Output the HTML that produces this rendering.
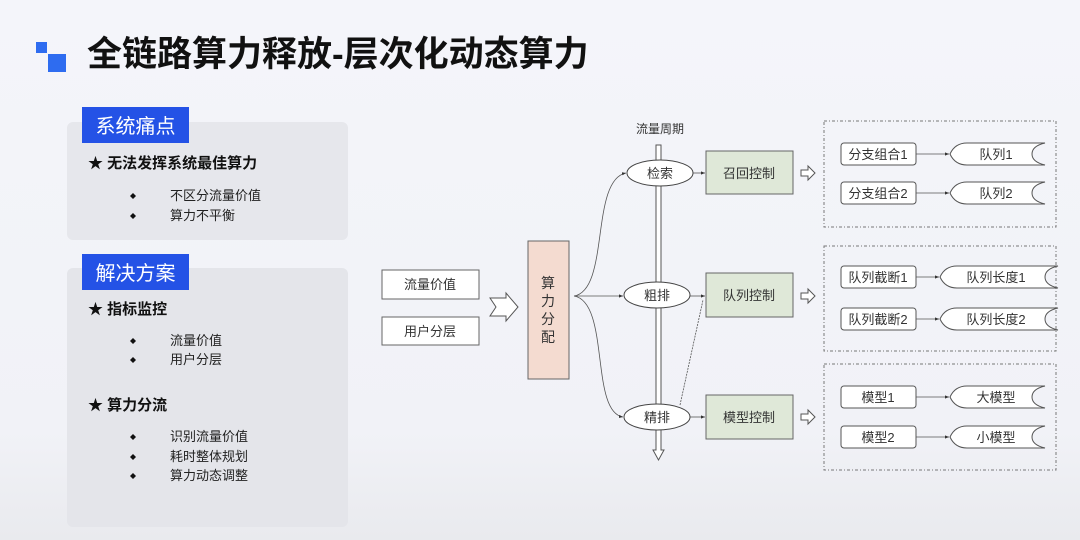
<!DOCTYPE html>
<html><head><meta charset="utf-8"><style>
body{margin:0;width:1080px;height:540px;overflow:hidden;background:linear-gradient(#f4f5fa 0%,#f1f2f7 80%,#e9eaee 100%);font-family:"Liberation Sans","Noto Sans CJK SC",sans-serif;}
svg{position:absolute;left:0;top:0}
</style></head><body>
<svg width="1080" height="540" xmlns="http://www.w3.org/2000/svg" font-family="Liberation Sans, Noto Sans CJK SC, sans-serif">
<defs>
<marker id="a" markerWidth="6" markerHeight="6" refX="5" refY="3" orient="auto"><path d="M0,1 L5,3 L0,5z" fill="#333"/></marker>
</defs>
<rect x="36" y="42" width="11" height="11" fill="#2e6cf0"/>
<rect x="48" y="54" width="18" height="18" fill="#2e6cf0"/>
<text x="87" y="66" font-size="35" font-weight="bold" fill="#111">全链路算力释放-层次化动态算力</text>
<rect x="67" y="122" width="281" height="118" rx="6" fill="#e6e7ec"/>
<rect x="82" y="107" width="107" height="36" fill="#2452e6"/>
<text x="135.5" y="133" font-size="20" fill="#fff" text-anchor="middle">系统痛点</text>
<text x="88" y="168" font-size="15" font-weight="bold" fill="#111">★ 无法发挥系统最佳算力</text>
<g font-size="13" fill="#222"><text x="170" y="200">不区分流量价值</text><text x="170" y="220">算力不平衡</text></g>
<g fill="#111"><path d="M133,193 l3,3 l-3,3 l-3,-3z"/><path d="M133,213 l3,3 l-3,3 l-3,-3z"/></g>
<rect x="67" y="268" width="281" height="259" rx="6" fill="#e4e5ea"/>
<rect x="82" y="254" width="107" height="36" fill="#2452e6"/>
<text x="135.5" y="280" font-size="20" fill="#fff" text-anchor="middle">解决方案</text>
<text x="88" y="314" font-size="15" font-weight="bold" fill="#111">★ 指标监控</text>
<text x="88" y="410" font-size="15" font-weight="bold" fill="#111">★ 算力分流</text>
<g font-size="13" fill="#222"><text x="170" y="345">流量价值</text><text x="170" y="364">用户分层</text>
<text x="170" y="441">识别流量价值</text><text x="170" y="461">耗时整体规划</text><text x="170" y="480">算力动态调整</text></g>
<g fill="#111"><path d="M133,338 l3,3 l-3,3 l-3,-3z"/><path d="M133,357 l3,3 l-3,3 l-3,-3z"/><path d="M133,434 l3,3 l-3,3 l-3,-3z"/><path d="M133,454 l3,3 l-3,3 l-3,-3z"/><path d="M133,473 l3,3 l-3,3 l-3,-3z"/></g>
<g fill="#fff" stroke="#666" stroke-width="1">
<rect x="382" y="270" width="97" height="29"/><rect x="382" y="317" width="97" height="28"/>
</g>
<g font-size="13" fill="#333" text-anchor="middle"><text x="430" y="289">流量价值</text><text x="430" y="336">用户分层</text></g>
<path d="M490,298 h16 v-5 l12,14 l-12,14 v-5 h-16 l6,-9z" fill="#fff" stroke="#555"/>
<rect x="528" y="241" width="41" height="138" fill="#f4dbd0" stroke="#666"/>
<g font-size="14" fill="#333" text-anchor="middle"><text x="548" y="288">算</text><text x="548" y="306">力</text><text x="548" y="324">分</text><text x="548" y="342">配</text></g>
<text x="660" y="133" font-size="12" fill="#333" text-anchor="middle">流量周期</text>
<path d="M656,145 h5 v305 h3 l-5.5,10 l-5.5,-10 h3z" fill="#fff" stroke="#555"/>
<g fill="none" stroke="#555" stroke-width="0.8">
<path d="M574,296 C610,290 590,180 626,173" marker-end="url(#a)"/>
<path d="M574,296 L623,296" marker-end="url(#a)"/>
<path d="M574,296 C610,302 590,412 623,417" marker-end="url(#a)"/>
<path d="M680,405 L703,300" stroke-dasharray="2,1"/>
<path d="M693,173 L705,173" marker-end="url(#a)"/>
<path d="M690,296 L705,296" marker-end="url(#a)"/>
<path d="M690,417 L705,417" marker-end="url(#a)"/>
</g>
<g fill="#fff" stroke="#444"><ellipse cx="660" cy="173" rx="33" ry="13"/><ellipse cx="657" cy="295" rx="33" ry="13"/><ellipse cx="657" cy="417" rx="33" ry="13"/></g>
<g font-size="13" fill="#333" text-anchor="middle"><text x="660" y="178">检索</text><text x="657" y="300">粗排</text><text x="657" y="422">精排</text></g>
<g fill="#dfe8d8" stroke="#666"><rect x="706" y="151" width="87" height="43"/><rect x="706" y="273" width="87" height="44"/><rect x="706" y="395" width="87" height="44"/></g>
<g font-size="13" fill="#333" text-anchor="middle"><text x="749" y="178">召回控制</text><text x="749" y="300">队列控制</text><text x="749" y="422">模型控制</text></g>
<g fill="#fff" stroke="#555">
<path d="M801,170 h7 v-4 l7,7 l-7,7 v-4 h-7z"/><path d="M801,293 h7 v-4 l7,7 l-7,7 v-4 h-7z"/><path d="M801,414 h7 v-4 l7,7 l-7,7 v-4 h-7z"/>
</g>
<g fill="none" stroke="#777" stroke-dasharray="3,2,1,2"><rect x="824" y="121" width="232" height="106"/><rect x="824" y="246" width="232" height="105"/><rect x="824" y="364" width="232" height="106"/></g>
<g fill="#fff" stroke="#555" stroke-width="1">
<rect x="841" y="143" width="75" height="22" rx="3"/><rect x="841" y="182" width="75" height="22" rx="3"/>
<rect x="841" y="266" width="75" height="22" rx="3"/><rect x="841" y="308" width="75" height="22" rx="3"/>
<rect x="841" y="386" width="75" height="22" rx="3"/><rect x="841" y="426" width="75" height="22" rx="3"/>
</g>
<g fill="none" stroke="#555" stroke-width="0.8">
<path d="M916,154 H949" marker-end="url(#a)"/><path d="M916,193 H949" marker-end="url(#a)"/>
<path d="M916,277 H939" marker-end="url(#a)"/><path d="M916,319 H939" marker-end="url(#a)"/>
<path d="M916,397 H949" marker-end="url(#a)"/><path d="M916,437 H949" marker-end="url(#a)"/>
</g>
<g fill="#fff" stroke="#555" stroke-width="1">
<path d="M950,154 Q955,143 967,143 H1045 Q1032,146 1032,154 Q1032,162 1045,165 H967 Q955,165 950,154z"/>
<path d="M950,193 Q955,182 967,182 H1045 Q1032,185 1032,193 Q1032,201 1045,204 H967 Q955,204 950,193z"/>
<path d="M940,277 Q945,266 957,266 H1058 Q1045,269 1045,277 Q1045,285 1058,288 H957 Q945,288 940,277z"/>
<path d="M940,319 Q945,308 957,308 H1058 Q1045,311 1045,319 Q1045,327 1058,330 H957 Q945,330 940,319z"/>
<path d="M950,397 Q955,386 967,386 H1045 Q1032,389 1032,397 Q1032,405 1045,408 H967 Q955,408 950,397z"/>
<path d="M950,437 Q955,426 967,426 H1045 Q1032,429 1032,437 Q1032,445 1045,448 H967 Q955,448 950,437z"/>
</g>
<g font-size="13" fill="#333" text-anchor="middle">
<text x="878" y="159">分支组合1</text><text x="878" y="198">分支组合2</text>
<text x="878" y="282">队列截断1</text><text x="878" y="324">队列截断2</text>
<text x="878" y="402">模型1</text><text x="878" y="442">模型2</text>
<text x="996" y="159">队列1</text><text x="996" y="198">队列2</text>
<text x="996" y="282">队列长度1</text><text x="996" y="324">队列长度2</text>
<text x="996" y="402">大模型</text><text x="996" y="442">小模型</text>
</g>
</svg>
</body></html>
